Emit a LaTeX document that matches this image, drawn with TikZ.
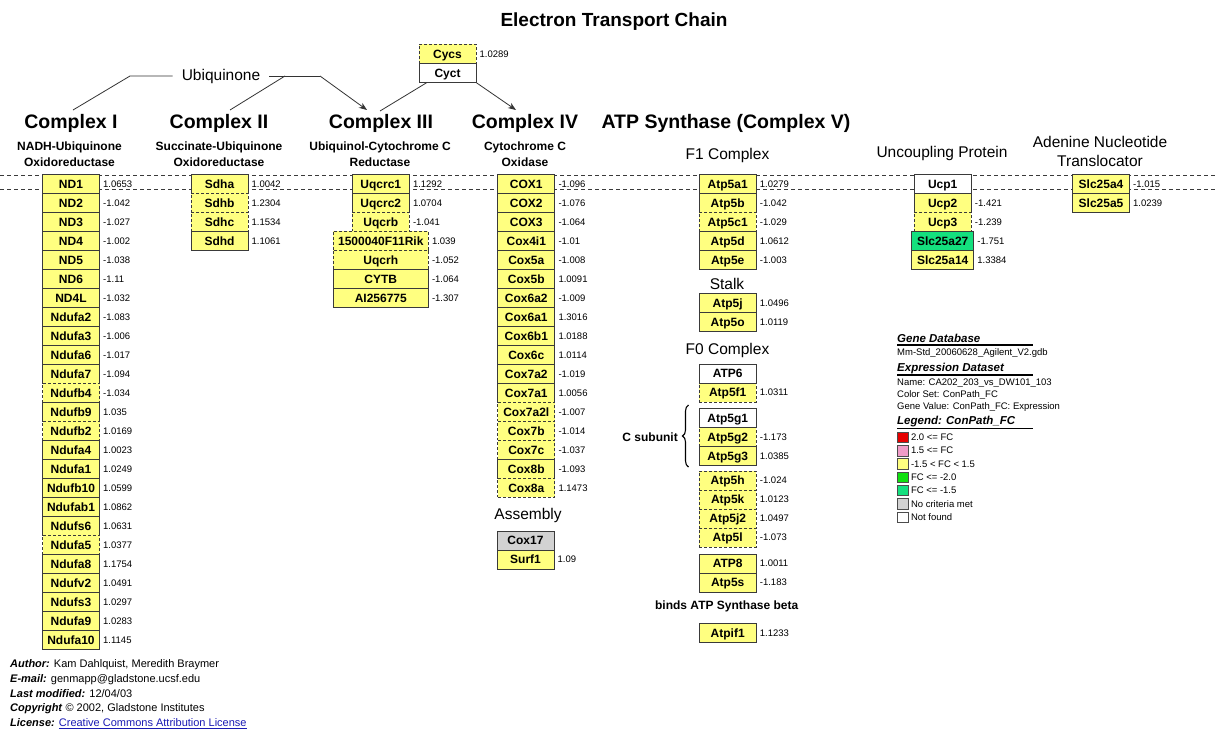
\documentclass[tikz,border=0pt]{standalone}
\usepackage{fontspec}
\setmainfont{Liberation Sans}
\usetikzlibrary{positioning,arrows.meta,decorations.pathreplacing}
\definecolor{genefill}{HTML}{FFFF80}
\definecolor{boxline}{HTML}{3A3A3A}
\definecolor{lowfill}{HTML}{14E07E}
\definecolor{nocrit}{HTML}{D2D2D2}
\definecolor{upred}{HTML}{E60000}
\definecolor{uppink}{HTML}{F09CC8}
\definecolor{downgreen}{HTML}{10E010}
\definecolor{linkblue}{HTML}{1A1AB4}
\tikzset{
  genebox/.style={draw=boxline,line width=1pt,fill=genefill,minimum width=57pt,minimum height=19pt,inner sep=0pt,
    text height=8.6pt,text depth=0pt,font=\fontsize{12}{12}\selectfont\bfseries},
  genedash/.style={genebox,dash pattern=on 3pt off 2pt},
  widebox/.style={genebox,minimum width=95pt},
  widedash/.style={genedash,minimum width=95pt},
  midbox/.style={genebox,minimum width=62pt},
  greenbox/.style={midbox,fill=lowfill},
  nofound/.style={genebox,fill=white},
  nocritbox/.style={genebox,fill=nocrit},
  geneval/.style={inner sep=0pt,font=\fontsize{9.5}{9.5}\selectfont},
  cplx/.style={font=\fontsize{19.5}{19.5}\selectfont\bfseries},
  cplxsub/.style={align=center,font=\fontsize{12}{15.7}\selectfont\bfseries},
  part/.style={align=center,font=\fontsize{15.5}{19.3}\selectfont},
  membrane/.style={draw=boxline,line width=0.8pt,dash pattern=on 4pt off 3pt},
  link/.style={draw=black!80,line width=0.8pt},
  legtitle/.style={anchor=west,inner sep=0pt,font=\fontsize{11.5}{11.5}\selectfont\bfseries\itshape},
  legtext/.style={anchor=west,inner sep=0pt,align=left,font=\fontsize{9.5}{12}\selectfont},
  swatch/.style={draw=black!70,line width=0.6pt,minimum width=11pt,minimum height=10.5pt,inner sep=0pt}
}
\begin{document}
\begin{tikzpicture}[x=1pt,y=-1pt]
\useasboundingbox[fill=white] (0,0) rectangle (1217,731);
% membrane
\draw[membrane] (0,175.7) -- (1217,175.7); \draw[membrane] (0,189.3) -- (1217,189.3);
% headings
\node[font=\fontsize{19}{19}\selectfont\bfseries] (title) at (614,21.7) {Electron Transport Chain};
\node[cplx] (cI) at (71,123) {Complex I}; \node[cplx] (cII) at (219,123) {Complex II};
\node[cplx] (cIII) at (381,123) {Complex III}; \node[cplx] (cIV) at (525,123) {Complex IV};
\node[cplx] (cV) at (726,123) {ATP Synthase (Complex V)};
\node[cplxsub] (sI) at (69.5,153.9) {NADH-Ubiquinone\\Oxidoreductase};
\node[cplxsub] (sII) at (219,153.9) {Succinate-Ubiquinone\\Oxidoreductase};
\node[cplxsub] (sIII) at (380,153.9) {Ubiquinol-Cytochrome C\\Reductase};
\node[cplxsub] (sIV) at (525,153.9) {Cytochrome C\\Oxidase};
\node[part] (f1) at (727.5,155) {F1 Complex}; \node[part] (stalk) at (727,284) {Stalk};
\node[part] (f0) at (727.5,350.7) {F0 Complex}; \node[part] (asm) at (528,515) {Assembly};
\node[part] (ucp) at (942,153.3) {Uncoupling Protein};
\node[part] (ant) at (1100,151.4) {Adenine Nucleotide\\Translocator};
\node[font=\fontsize{12}{12}\selectfont\bfseries] (beta) at (726.7,606) {binds ATP Synthase beta};
\node[font=\fontsize{12}{12}\selectfont\bfseries,anchor=east,inner sep=0pt] (csub) at (678,437) {C subunit};
\draw[line width=1.1pt,decorate,decoration={brace,amplitude=6pt}] (688.5,467) -- (688.5,405);
% ubiquinone and cytochrome c
\node[font=\fontsize{15.5}{15.5}\selectfont,inner xsep=9pt] (ubq) at (221,76) {Ubiquinone};
\coordinate (q1) at (130,76); \coordinate (q2) at (285,76); \coordinate (q3) at (320,76);
\coordinate (inI) at (73,110); \coordinate (inII) at (230,110); \coordinate (inIII) at (367,110);
\coordinate (cyIII) at (380,111); \coordinate (inIV) at (516,110);
\node[genedash] (cycs) at (447.5,53.8) {Cycs}; \node[geneval,right=3pt of cycs] (vcycs) {1.0289};
\node[nofound] (cyct) at (447.5,72.8) {Cyct};
\draw[link] (ubq.west) -- (q1) -- (inI); \draw[link] (ubq.east) -- (q3); \draw[link] (q2) -- (inII);
\draw[link,-{Stealth[length=8pt,width=6pt]}] (q3) -- (inIII);
\draw[link] ([xshift=8pt]cyct.south west) -- (cyIII);
\draw[link,-{Stealth[length=8pt,width=6pt]}] (cyct.south east) -- (inIV);
% complex I
\foreach \g/\v/\s [count=\i from 0] in {ND1/1.0653/genebox,ND2/-1.042/genebox,ND3/-1.027/genebox,ND4/-1.002/genebox,
  ND5/-1.038/genebox,ND6/-1.11/genebox,ND4L/-1.032/genebox,Ndufa2/-1.083/genebox,Ndufa3/-1.006/genebox,
  Ndufa6/-1.017/genebox,Ndufa7/-1.094/genebox,Ndufb4/-1.034/genedash,Ndufb9/1.035/genebox,Ndufb2/1.0169/genedash,
  Ndufa4/1.0023/genebox,Ndufa1/1.0249/genebox,Ndufb10/1.0599/genebox,Ndufab1/1.0862/genebox,Ndufs6/1.0631/genebox,
  Ndufa5/1.0377/genedash,Ndufa8/1.1754/genebox,Ndufv2/1.0491/genebox,Ndufs3/1.0297/genebox,Ndufa9/1.0283/genebox,
  Ndufa10/1.1145/genebox}
  {\node[\s] (ci\i) at (71,183.8+19*\i) {\g}; \node[geneval,right=3pt of ci\i] (vci\i) {\v};}
% complex II
\foreach \g/\v/\s [count=\i from 0] in {Sdha/1.0042/genebox,Sdhb/1.2304/genedash,Sdhc/1.1534/genedash,Sdhd/1.1061/genebox}
  {\node[\s] (cii\i) at (219.5,183.8+19*\i) {\g}; \node[geneval,right=3pt of cii\i] (vcii\i) {\v};}
% complex III
\foreach \g/\v/\s [count=\i from 0] in {Uqcrc1/1.1292/genebox,Uqcrc2/1.0704/genebox,Uqcrb/-1.041/genedash,
  1500040F11Rik/1.039/widedash,Uqcrh/-1.052/widedash,CYTB/-1.064/widebox,AI256775/-1.307/widebox}
  {\node[\s] (ciii\i) at (380.8,183.8+19*\i) {\g}; \node[geneval,right=3pt of ciii\i] (vciii\i) {\v};}
% complex IV
\foreach \g/\v/\s [count=\i from 0] in {COX1/-1.096/genebox,COX2/-1.076/genebox,COX3/-1.064/genebox,Cox4i1/-1.01/genebox,
  Cox5a/-1.008/genebox,Cox5b/1.0091/genebox,Cox6a2/-1.009/genebox,Cox6a1/1.3016/genebox,Cox6b1/1.0188/genebox,
  Cox6c/1.0114/genebox,Cox7a2/-1.019/genebox,Cox7a1/1.0056/genebox,Cox7a2l/-1.007/genedash,Cox7b/-1.014/genedash,
  Cox7c/-1.037/genedash,Cox8b/-1.093/genebox,Cox8a/1.1473/genedash}
  {\node[\s] (civ\i) at (526.3,183.8+19*\i) {\g}; \node[geneval,right=3pt of civ\i] (vciv\i) {\v};}
\node[nocritbox] (cox17) at (525.5,540.5) {Cox17};
\node[genebox] (surf1) at (525.5,559.5) {Surf1}; \node[geneval,right=3pt of surf1] (vsurf1) {1.09};
% complex V
\foreach \g/\v/\s/\y [count=\i from 0] in {Atp5a1/1.0279/genebox/183.8,Atp5b/-1.042/genebox/202.8,
  Atp5c1/-1.029/genedash/221.8,Atp5d/1.0612/genebox/240.8,Atp5e/-1.003/genebox/259.8,
  Atp5j/1.0496/genebox/302.8,Atp5o/1.0119/genebox/321.8,Atp5f1/1.0311/genedash/392.5,
  Atp5g2/-1.173/genedash/436.8,Atp5g3/1.0385/genebox/455.8,Atp5h/-1.024/genedash/480.5,
  Atp5k/1.0123/genedash/499.5,Atp5j2/1.0497/genedash/518.5,Atp5l/-1.073/genedash/537.5,
  ATP8/1.0011/genebox/563.5,Atp5s/-1.183/genebox/582.5,Atpif1/1.1233/genebox/632.8}
  {\node[\s] (cv\i) at (727.7,\y) {\g}; \node[geneval,right=3pt of cv\i] (vcv\i) {\v};}
\node[nofound] (atp6) at (727.7,373.5) {ATP6}; \node[nofound] (atp5g1) at (727.7,417.8) {Atp5g1};
% uncoupling protein, translocator
\node[nofound] (ucp1) at (942.7,183.8) {Ucp1};
\foreach \g/\v/\s [count=\i from 1] in {Ucp2/-1.421/genebox,Ucp3/-1.239/genedash,Slc25a27/-1.751/greenbox,Slc25a14/1.3384/midbox}
  {\node[\s] (ucp\i) at (942.7,183.8+19*\i) {\g}; \node[geneval,right=3pt of ucp\i] (vucp\i) {\v};}
\foreach \g/\v [count=\i from 0] in {Slc25a4/-1.015,Slc25a5/1.0239}
  {\node[genebox] (ant\i) at (1101,183.8+19*\i) {\g}; \node[geneval,right=3pt of ant\i] (vant\i) {\v};}
% legend
\node[legtitle] (gdb) at (897,338.3) {Gene Database}; \draw[line width=1.2pt] (897,345) -- (1033,345);
\node[legtext] (gdbname) at (897,353.3) {Mm-Std\_20060628\_Agilent\_V2.gdb};
\node[legtitle] (eds) at (897,369) {Expression Dataset}; \draw[line width=1.2pt] (897,375) -- (1033,375);
\node[legtext] (edsinfo) at (897,395.5) {Name: CA202\_203\_vs\_DW101\_103\\Color Set: ConPath\_FC\\Gene Value: ConPath\_FC: Expression};
\node[legtitle] (lgd) at (897,421.7) {Legend: ConPath\_FC}; \draw[line width=1.2pt] (897,428.3) -- (1033,428.3);
\foreach \c/\t [count=\i from 0] in {upred/2.0 <= FC,uppink/1.5 <= FC,genefill/-1.5 < FC < 1.5,downgreen/FC <= -2.0,
  lowfill/FC <= -1.5,nocrit/No criteria met,white/Not found}
  {\node[swatch,fill=\c] (sw\i) at (903,437.3+13.3*\i) {}; \node[legtext,right=2pt of sw\i] (lt\i) {\t};}
% credits
\node[anchor=west,inner sep=0pt,align=left,font=\fontsize{11}{14.6}\selectfont] (credits) at (10,694.2)
  {\textbf{\textit{Author:}} Kam Dahlquist, Meredith Braymer\\\textbf{\textit{E-mail:}} genmapp@gladstone.ucsf.edu\\
   \textbf{\textit{Last modified:}} 12/04/03\\\textbf{\textit{Copyright}} © 2002, Gladstone Institutes\\
   \textbf{\textit{License:}} \textcolor{linkblue}{\underline{Creative Commons Attribution License}}};
\end{tikzpicture}
\end{document}
